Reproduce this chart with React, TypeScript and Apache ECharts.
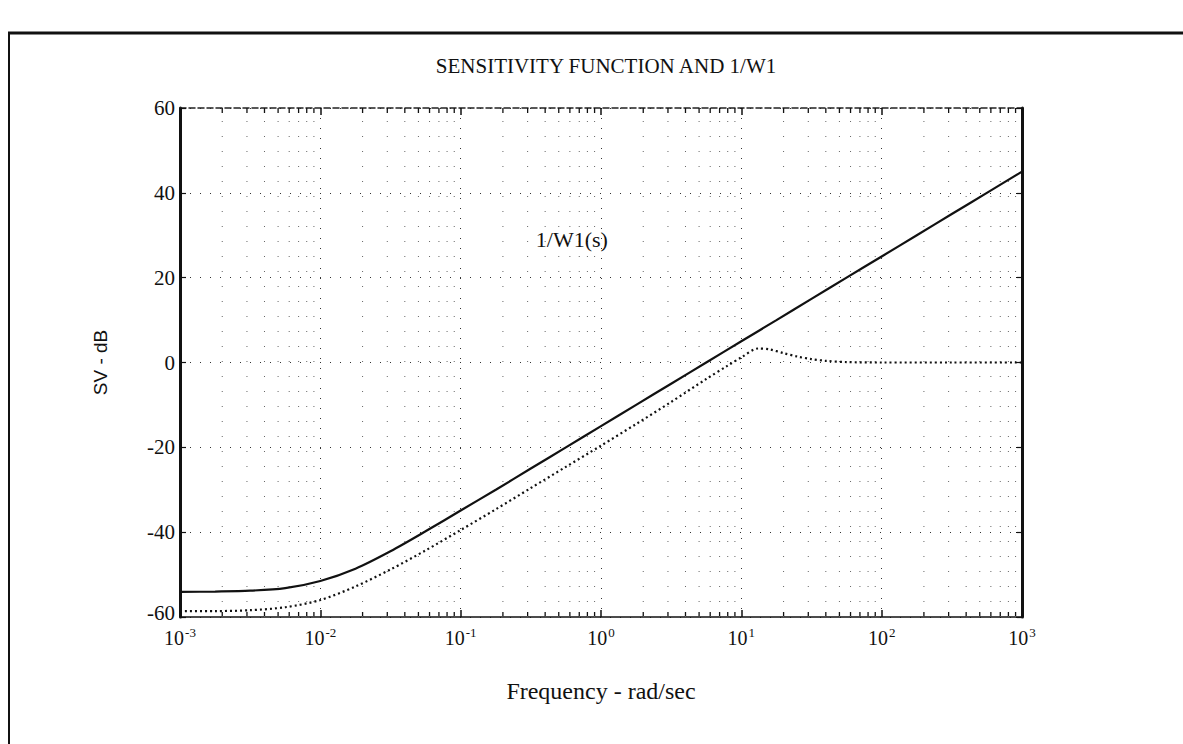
import React, { useEffect, useRef } from "react";
import * as echarts from "echarts";

// Frequencies (rad/sec) and magnitudes (dB)
const weightFreq = [0.001, 0.00178, 0.00316, 0.00562, 0.01, 0.0178, 0.0316, 0.0562, 0.1, 0.178, 0.316, 0.562, 1, 1.78, 3.16, 5.62, 10, 17.8, 31.6, 56.2, 100, 178, 316, 562, 1000];
const weightDb = [-54.1, -54.0, -53.8, -53.2, -51.5, -48.6, -44.5, -39.8, -34.9, -30.0, -25.0, -20.0, -15.0, -10.0, -5.0, 0.0, 5.0, 10.0, 15.0, 20.0, 25.0, 30.0, 35.0, 40.0, 45.0];

const sensFreq = [0.001, 0.00178, 0.00316, 0.00562, 0.01, 0.0178, 0.0316, 0.0562, 0.1, 0.178, 0.316, 0.562, 1, 1.78, 3.16, 5.62, 7.94, 10, 13.2, 15.8, 20, 25.1, 31.6, 39.8, 56.2, 100, 316, 1000];
const sensDb = [-58.6, -58.6, -58.4, -57.7, -56.0, -52.8, -48.8, -44.3, -39.5, -34.6, -29.6, -24.6, -19.6, -14.5, -9.3, -3.9, -0.8, 1.2, 3.3, 3.1, 2.2, 1.4, 0.8, 0.4, 0.1, 0.0, 0.0, 0.0];

const yTicks = [-60, -40, -20, 0, 20, 40, 60];
const decadeFreq = [0.001, 0.01, 0.1, 1, 10, 100, 1000];
const minorMultipliers = [2, 3, 4, 5, 6, 7, 8, 9];

const titleText = "SENSITIVITY FUNCTION AND 1/W1";
const xName = "Frequency - rad/sec";
const yName = "SV - dB";
const curveLabel = "1/W1(s)";
const curveLabelAt = [0.62, 29];

const SERIF = "'Liberation Serif', 'DejaVu Serif', serif";
const SANS = "'Liberation Sans', Arial, sans-serif";

export default function App() {
  const ref = useRef<HTMLDivElement>(null);
  useEffect(() => {
    if (!ref.current) return;
    const chart = echarts.init(ref.current, undefined, { renderer: "svg" });
    const minorFreq: number[] = [];
    decadeFreq.slice(0, -1).forEach((d) => minorMultipliers.forEach((m) => minorFreq.push(+(d * m).toPrecision(3))));

    const expLabel = (v: number) => {
      const e = Math.round(Math.log10(v));
      return "{b|10}{s|" + (e < 0 ? "-" + -e : String(e)) + "}";
    };
    const yLabel = (v: number) => (v === yTicks[0] ? "{lo|" + v + "}" : "{n|" + v + "}");

    const option: any = {
      animation: false,
      backgroundColor: "#ffffff",
      title: {
        text: titleText,
        left: 601,
        top: 50,
        textAlign: "center",
        textStyle: { fontFamily: SERIF, fontSize: 21, fontWeight: "normal", color: "#111" },
      },
      grid: { left: 180, right: 161, top: 108, bottom: 127, containLabel: false },
      xAxis: [
        {
          type: "log",
          logBase: 10,
          min: 0.001,
          max: 1000,
          position: "bottom",
          name: xName,
          nameLocation: "middle",
          nameGap: 62,
          nameTextStyle: { fontFamily: SERIF, fontSize: 24, color: "#111" },
          axisLine: { show: true, onZero: false, lineStyle: { color: "#111", width: 1.5 } },
          axisTick: { show: true, inside: true, length: 7, lineStyle: { color: "#111", width: 1.5 } },
          axisLabel: {
            formatter: expLabel,
            margin: 9,
            rich: {
              b: { fontFamily: SERIF, fontSize: 20, color: "#111" },
              s: { fontFamily: SERIF, fontSize: 13, color: "#111", verticalAlign: "top", padding: [0, 0, 10, 1] },
            },
          },
          splitLine: { show: true, lineStyle: { color: "#333", width: 1, type: [1, 9] } },
        },
        {
          type: "log",
          logBase: 10,
          min: 0.001,
          max: 1000,
          position: "top",
          axisLine: { show: true, onZero: false, lineStyle: { color: "#222", width: 1.5, type: [6, 3] } },
          axisTick: { show: true, inside: true, length: 7, lineStyle: { color: "#111", width: 1.5 } },
          axisLabel: { show: false },
          splitLine: { show: false },
        },
      ],
      yAxis: [
        {
          type: "value",
          min: -60,
          max: 60,
          interval: 20,
          position: "left",
          name: yName,
          nameLocation: "middle",
          nameGap: 70,
          nameRotate: 90,
          nameTextStyle: { fontFamily: SANS, fontSize: 19, color: "#111" },
          axisLine: { show: true, onZero: false, lineStyle: { color: "#111", width: 3 } },
          axisTick: { show: true, inside: true, length: 6, lineStyle: { color: "#111", width: 1.2 } },
          axisLabel: {
            margin: 5,
            formatter: yLabel,
            rich: {
              n: { fontFamily: SERIF, fontSize: 21, color: "#111" },
              lo: { fontFamily: SERIF, fontSize: 21, color: "#111", padding: [0, 0, 9, 0] },
            },
          },
          splitLine: { show: true, lineStyle: { color: "#333", width: 1, type: [1, 9] } },
        },
        {
          type: "value",
          min: -60,
          max: 60,
          interval: 20,
          position: "right",
          axisLine: { show: true, onZero: false, lineStyle: { color: "#111", width: 3 } },
          axisTick: { show: true, inside: true, length: 6, lineStyle: { color: "#111", width: 1.2 } },
          axisLabel: { show: false },
          splitLine: { show: false },
        },
      ],
      graphic: [
        { type: "line", shape: { x1: 8, y1: 33, x2: 1183, y2: 33 }, style: { stroke: "#111", lineWidth: 3 } },
        { type: "line", shape: { x1: 9, y1: 33, x2: 9, y2: 744 }, style: { stroke: "#111", lineWidth: 2 } },
      ],
      series: [
        {
          type: "custom",
          name: "minor",
          xAxisIndex: 0,
          yAxisIndex: 0,
          silent: true,
          data: minorFreq.map((f) => [f]),
          renderItem: (params: any, api: any) => {
            const f = api.value(0);
            const b = api.coord([f, -60]);
            const t = api.coord([f, 60]);
            return {
              type: "group",
              children: [
                { type: "line", shape: { x1: b[0], y1: b[1], x2: b[0], y2: b[1] - 5 }, style: { stroke: "#111", lineWidth: 1.3 } },
                { type: "line", shape: { x1: t[0], y1: t[1], x2: t[0], y2: t[1] + 5 }, style: { stroke: "#111", lineWidth: 1.3 } },
                { type: "line", shape: { x1: b[0], y1: b[1], x2: t[0], y2: t[1] }, style: { stroke: "#666", lineWidth: 1, lineDash: [1, 14] } },
              ],
            };
          },
          z: 1,
        },
        {
          type: "line",
          name: "1/W1(s)",
          data: weightFreq.map((f, i) => [f, weightDb[i]]),
          smooth: 0.3,
          showSymbol: false,
          lineStyle: { color: "#111", width: 2.2 },
          z: 3,
        },
        {
          type: "line",
          name: "S",
          data: sensFreq.map((f, i) => [f, sensDb[i]]),
          smooth: 0.3,
          showSymbol: false,
          lineStyle: { color: "#111", width: 2.2, type: [2, 3] },
          markPoint: {
            symbol: "circle",
            symbolSize: 0,
            data: [{ coord: curveLabelAt, label: { show: true, formatter: curveLabel, fontFamily: SERIF, fontSize: 22, color: "#111" } }],
          },
          z: 3,
        },
      ],
    };
    chart.setOption(option);
    return () => chart.dispose();
  }, []);
  return <div ref={ref} style={{ position: "fixed", left: 0, top: 0, width: 1183, height: 744, background: "#fff" }} />;
}
